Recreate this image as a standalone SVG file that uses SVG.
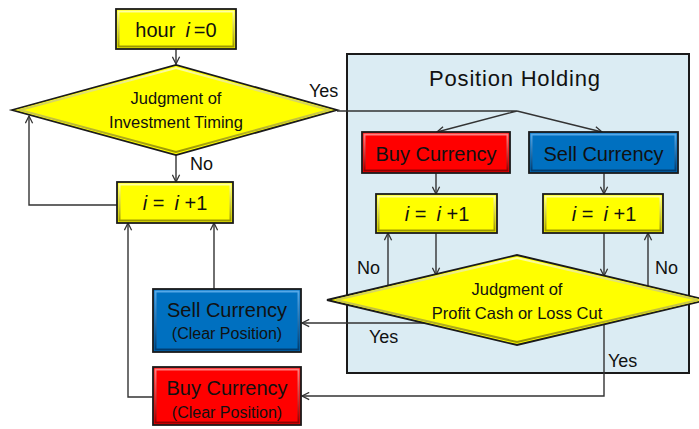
<svg xmlns="http://www.w3.org/2000/svg" width="699" height="429" viewBox="0 0 699 429">
  <style>
    text { font-family: "Liberation Sans", Arial, sans-serif; fill: #111; text-anchor: middle; }
    .lbl { font-size: 18px; text-anchor: start; }
    .big { font-size: 20px; }
    .mid { font-size: 16px; }
    .dia { font-size: 16.5px; }
    .it { font-style: italic; }
    .edge { fill: none; stroke: #333; stroke-width: 1.4; }
    .arr { marker-end: url(#head); }
    .frame { stroke: #1a1a1a; stroke-width: 1.8; }
    .bevY { fill: none; stroke: url(#gY); stroke-width: 2; }
    .bevR { fill: none; stroke: url(#gR); stroke-width: 2; }
    .bevB { fill: none; stroke: url(#gB); stroke-width: 2; }
  </style>
  <defs>
    <marker id="head" viewBox="0 0 10 10" refX="9" refY="5" markerWidth="9" markerHeight="9" markerUnits="userSpaceOnUse" orient="auto">
      <path d="M1,1 L9,5 L1,9" fill="none" stroke="#333" stroke-width="1.4"/>
    </marker>
    <linearGradient id="gY" x1="0" y1="0" x2="0" y2="1">
      <stop offset="0" stop-color="#ffffa0"/>
      <stop offset="1" stop-color="#9c9800"/>
    </linearGradient>
    <linearGradient id="gR" x1="0" y1="0" x2="0" y2="1">
      <stop offset="0" stop-color="#ff8080"/>
      <stop offset="1" stop-color="#900000"/>
    </linearGradient>
    <linearGradient id="gB" x1="0" y1="0" x2="0" y2="1">
      <stop offset="0" stop-color="#55a8e8"/>
      <stop offset="1" stop-color="#003c70"/>
    </linearGradient>
  </defs>

  <!-- Position Holding container -->
  <g id="position-holding">
    <rect x="347" y="54" width="342" height="319" fill="#dbecf3" stroke="#1a1a1a" stroke-width="2"/>
    <text x="515" y="86" font-size="22" letter-spacing="0.8">Position Holding</text>
  </g>

  <!-- connectors -->
  <g id="connectors">
    <path class="edge arr" d="M176,49 V64"/>
    <path class="edge arr" d="M176,155 V182"/>
    <path class="edge arr" d="M117,205 H29 V116"/>
    <path class="edge arr" d="M337,111 H517 L437,132"/>
    <path class="edge arr" d="M517,111 L602,132"/>
    <path class="edge arr" d="M436,173 V194"/>
    <path class="edge arr" d="M604,173 V194"/>
    <path class="edge arr" d="M436,233 V275"/>
    <path class="edge arr" d="M388,285 V233"/>
    <path class="edge arr" d="M604,233 V276"/>
    <path class="edge arr" d="M648,286 V233"/>
    <path class="edge arr" d="M424,323 H302"/>
    <path class="edge arr" d="M604,324 V396 H302"/>
    <path class="edge arr" d="M214,289 V223"/>
    <path class="edge arr" d="M153,397 H128 V223"/>
    <text class="lbl" x="309" y="97">Yes</text>
    <text class="lbl" x="190" y="170">No</text>
    <text class="lbl" x="357" y="274">No</text>
    <text class="lbl" x="655" y="274">No</text>
    <text class="lbl" x="369" y="343">Yes</text>
    <text class="lbl" x="608" y="367">Yes</text>
  </g>

  <g id="start">
    <rect class="frame" x="116" y="9" width="120" height="40" fill="#ffff00"/>
    <rect class="bevY" x="118.5" y="11.5" width="115" height="35"/>
    <text class="big" x="176" y="37">hour<tspan class="it" dx="10">i</tspan><tspan dx="4">=0</tspan></text>
  </g>

  <g id="judge-timing">
    <polygon class="frame" points="12,110 176,65 337,110 176,155" fill="#ffff00"/>
    <polygon class="bevY" points="20,110 176,68 329,110 176,152"/>
    <text class="dia" x="176" y="104">Judgment of</text>
    <text class="dia" x="176" y="128">Investment Timing</text>
  </g>

  <g id="step-main">
    <rect class="frame" x="117" y="182" width="116" height="41" fill="#ffff00"/>
    <rect class="bevY" x="119.5" y="184.5" width="111" height="36"/>
    <text class="big" x="175" y="210"><tspan class="it">i</tspan> =<tspan class="it" dx="10">i</tspan> +1</text>
  </g>

  <g id="buy-open">
    <rect class="frame" x="362" y="132" width="148" height="41" fill="#ff0000"/>
    <rect class="bevR" x="364.5" y="134.5" width="143" height="36"/>
    <text class="big" x="436" y="161">Buy Currency</text>
  </g>

  <g id="sell-open">
    <rect class="frame" x="529" y="132" width="149" height="41" fill="#0070c0"/>
    <rect class="bevB" x="531.5" y="134.5" width="144" height="36"/>
    <text class="big" x="603.5" y="161">Sell Currency</text>
  </g>

  <g id="step-buy">
    <rect class="frame" x="376" y="194" width="121" height="39" fill="#ffff00"/>
    <rect class="bevY" x="378.5" y="196.5" width="116" height="34"/>
    <text class="big" x="437" y="221"><tspan class="it">i</tspan> =<tspan class="it" dx="10">i</tspan> +1</text>
  </g>

  <g id="step-sell">
    <rect class="frame" x="543" y="194" width="120" height="39" fill="#ffff00"/>
    <rect class="bevY" x="545.5" y="196.5" width="115" height="34"/>
    <text class="big" x="604" y="221"><tspan class="it">i</tspan> =<tspan class="it" dx="10">i</tspan> +1</text>
  </g>

  <g id="judge-exit">
    <polygon class="frame" points="327,300 517,255 707,300 517,345" fill="#ffff00"/>
    <polygon class="bevY" points="336,300 517,258 698,300 517,342"/>
    <text class="dia" x="517" y="295">Judgment of</text>
    <text class="dia" x="517" y="319">Profit Cash or Loss Cut</text>
  </g>

  <g id="sell-close">
    <rect class="frame" x="153" y="289" width="148" height="63" fill="#0070c0"/>
    <rect class="bevB" x="155.5" y="291.5" width="143" height="58"/>
    <text class="big" x="227" y="317">Sell Currency</text>
    <text class="mid" x="227" y="339">(Clear Position)</text>
  </g>

  <g id="buy-close">
    <rect class="frame" x="153" y="367" width="148" height="58" fill="#ff0000"/>
    <rect class="bevR" x="155.5" y="369.5" width="143" height="53"/>
    <text class="big" x="227" y="395">Buy Currency</text>
    <text class="mid" x="227" y="418">(Clear Position)</text>
  </g>
</svg>
